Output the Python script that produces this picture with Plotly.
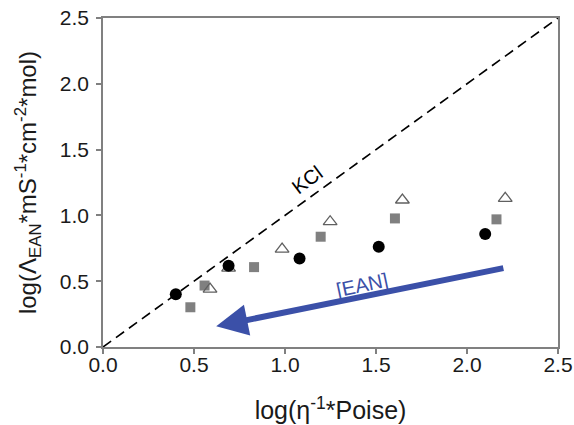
import plotly.graph_objects as go

circ_x = [0.40, 0.69, 1.08, 1.515, 2.10]
circ_y = [0.40, 0.617, 0.673, 0.761, 0.858]
sq_x = [0.48, 0.558, 0.83, 1.196, 1.604, 2.162]
sq_y = [0.302, 0.467, 0.607, 0.838, 0.977, 0.97]
tri_x = [0.588, 0.69, 0.984, 1.248, 1.645, 2.21]
tri_y = [0.44, 0.60, 0.744, 0.952, 1.117, 1.13]
kcl_x = [0.0, 2.5]
kcl_y = [0.0, 2.5]
ticks = [0.0, 0.5, 1.0, 1.5, 2.0, 2.5]
tick_text = ["0.0", "0.5", "1.0", "1.5", "2.0", "2.5"]

FONT = "Liberation Sans"

fig = go.Figure()
fig.add_trace(go.Scatter(x=kcl_x, y=kcl_y, mode="lines",
                         line=dict(color="black", width=1.6, dash="10px,6px"),
                         showlegend=False, hoverinfo="skip"))
fig.add_trace(go.Scatter(x=sq_x, y=sq_y, mode="markers",
                         marker=dict(symbol="square", size=10, color="#808080"),
                         showlegend=False, hoverinfo="skip"))
fig.add_trace(go.Scatter(x=tri_x, y=tri_y, mode="markers",
                         marker=dict(symbol="triangle-up-open", size=12, color="#606060",
                                     line=dict(width=1.3)),
                         showlegend=False, hoverinfo="skip"))
fig.add_trace(go.Scatter(x=circ_x, y=circ_y, mode="markers",
                         marker=dict(symbol="circle", size=12, color="black"),
                         showlegend=False, hoverinfo="skip"))

fig.add_annotation(x=0.622, y=0.157, ax=2.208, ay=0.602, xref="x", yref="y",
                   axref="x", ayref="y", text="", showarrow=True,
                   arrowhead=2, arrowsize=1.05, arrowwidth=6, arrowcolor="#3b50a8")
fig.add_annotation(x=1.423, y=0.47, xref="x", yref="y", text="[EAN]", showarrow=False,
                   textangle=-12, font=dict(size=20, color="#3b50a8", family=FONT))
fig.add_annotation(x=1.12, y=1.27, xref="x", yref="y", text="KCl", showarrow=False,
                   textangle=-37, font=dict(size=20, color="black", family=FONT))

axis_common = dict(range=[0, 2.5], tickvals=ticks, ticktext=tick_text,
                   ticks="outside", ticklen=5, tickcolor="#808080", tickwidth=1.5,
                   showline=True, linecolor="#808080", linewidth=1.5, mirror=True,
                   showgrid=False, zeroline=False, automargin=False,
                   ticklabeloverflow="allow",
                   tickfont=dict(size=21, color="#1a1a1a", family=FONT))
fig.update_xaxes(**axis_common, ticklabelstandoff=-7,
                 title=dict(text="log(η<sup>-1</sup>*Poise)", standoff=27,
                            font=dict(size=25, color="#1a1a1a", family=FONT)))
fig.update_yaxes(**axis_common, ticklabelstandoff=3,
                 title=dict(text="log(Λ<sub>EAN</sub>*mS<sup>-1</sup>*cm<sup>-2</sup>*mol)",
                            standoff=16,
                            font=dict(size=24, color="#1a1a1a", family=FONT)))
fig.update_layout(width=574, height=425, margin=dict(l=103, r=16, t=18, b=78),
                  plot_bgcolor="white", paper_bgcolor="white")
fig.write_html("out.html", config={"displayModeBar": False},
               post_script="document.body.style.margin='0px';document.body.style.overflow='hidden';")
